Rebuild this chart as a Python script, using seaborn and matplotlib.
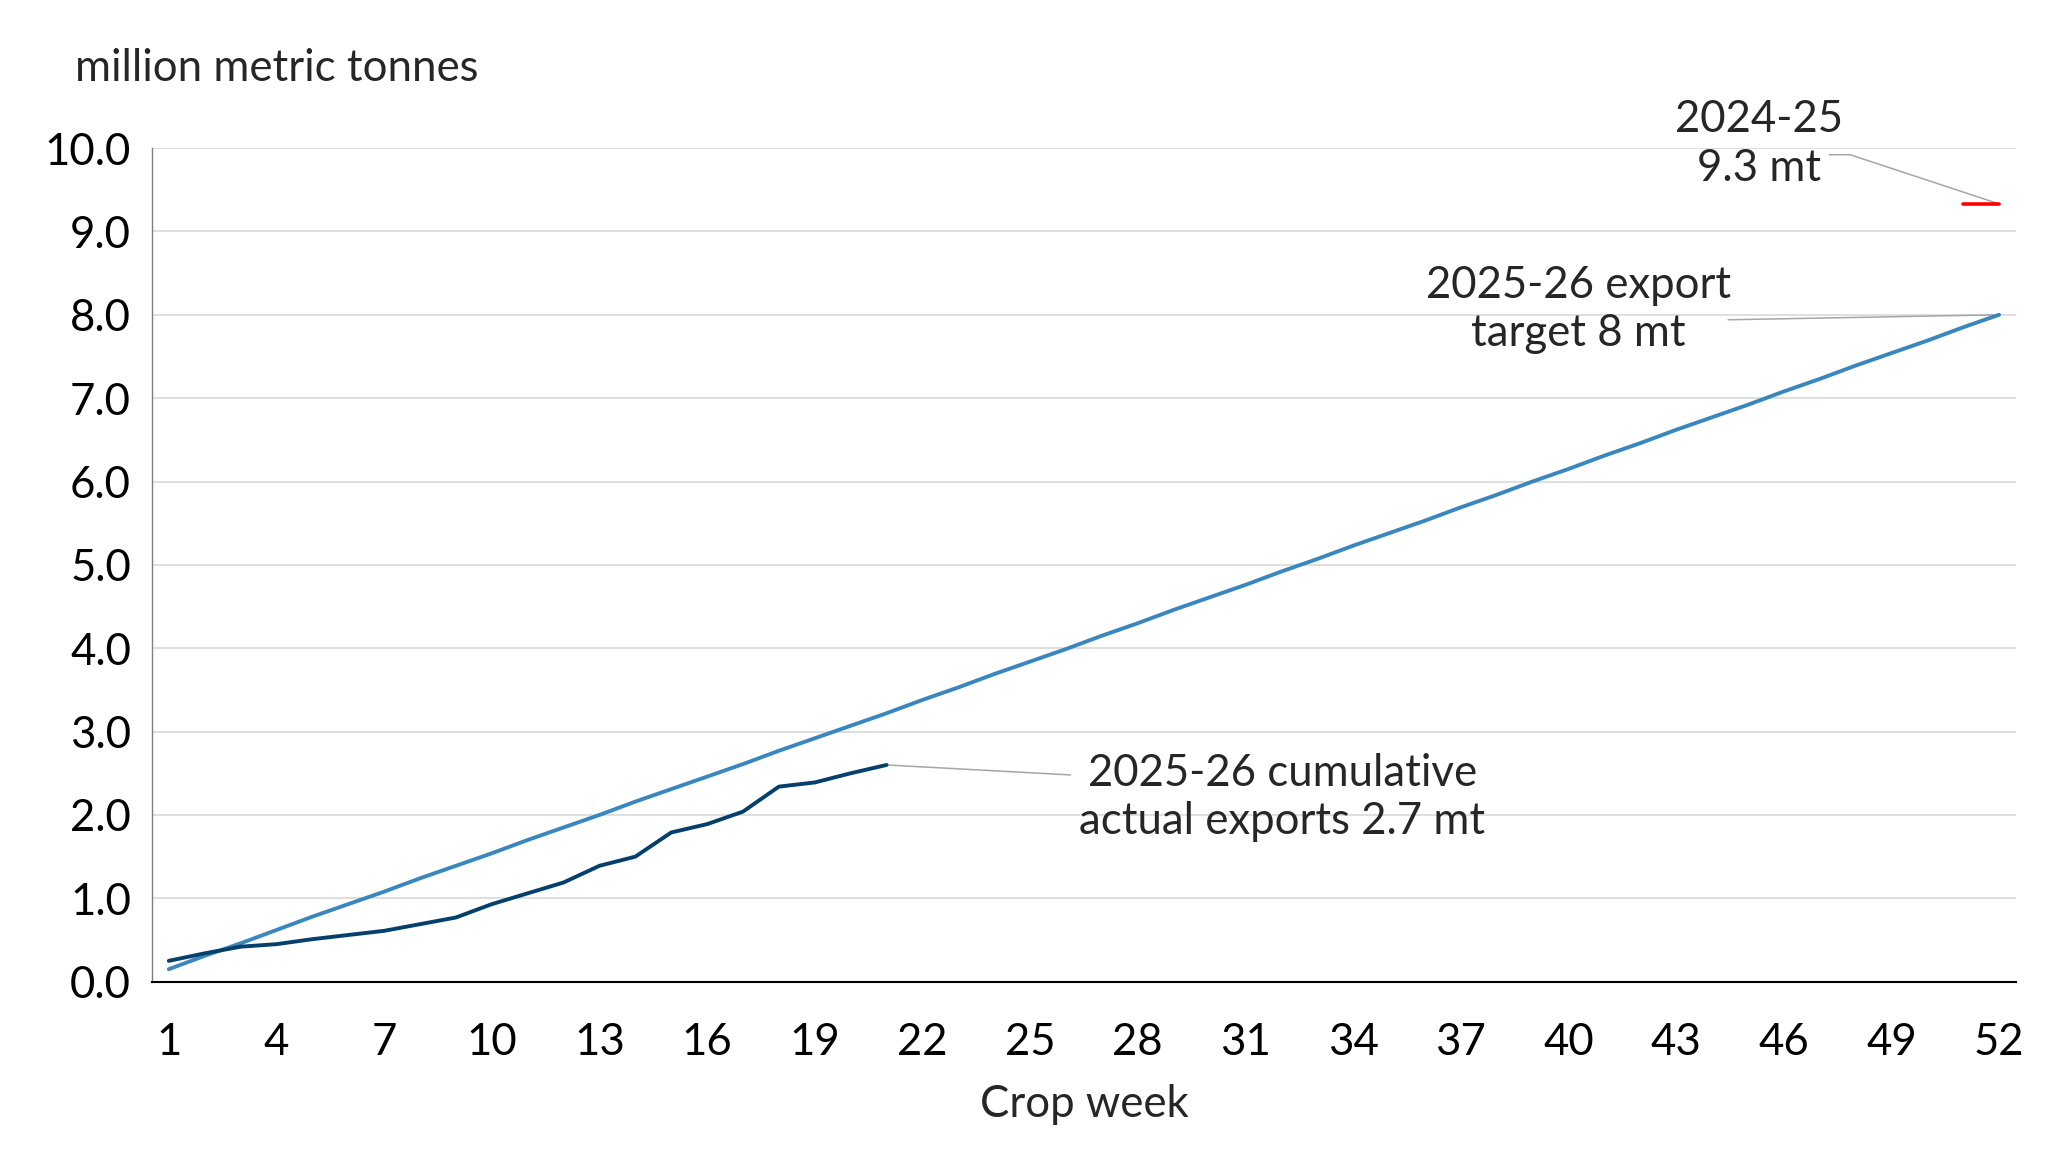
import numpy as np
import pandas as pd
import seaborn as sns
import matplotlib.pyplot as plt

# crop weeks
weeks = list(range(1, 53))
tick_weeks = list(range(1, 53, 3))

# 2025-26 export target, cumulative (mt)
target = [0.15, 0.31, 0.46, 0.62, 0.78, 0.93, 1.08, 1.24, 1.39, 1.54,
          1.70, 1.85, 2.00, 2.16, 2.31, 2.46, 2.61, 2.77, 2.92, 3.07,
          3.22, 3.38, 3.53, 3.69, 3.84, 3.99, 4.15, 4.30, 4.46, 4.61,
          4.76, 4.92, 5.07, 5.23, 5.38, 5.53, 5.69, 5.84, 6.00, 6.15,
          6.31, 6.46, 6.62, 6.77, 6.92, 7.08, 7.23, 7.39, 7.54, 7.69,
          7.85, 8.00]

# 2025-26 cumulative actual exports (mt), weeks 1-21
actual = [0.25, 0.34, 0.42, 0.45, 0.51, 0.56, 0.61, 0.69, 0.77, 0.93,
          1.06, 1.19, 1.39, 1.50, 1.79, 1.89, 2.04, 2.34, 2.39, 2.50,
          2.60]

# 2024-25 total
prev_weeks = [51, 52]
prev_total = [9.33, 9.33]

yticks = [0, 1, 2, 3, 4, 5, 6, 7, 8, 9, 10]

df_target = pd.DataFrame({"week": weeks, "value": target})
df_actual = pd.DataFrame({"week": weeks[:len(actual)], "value": actual})
df_prev = pd.DataFrame({"week": prev_weeks, "value": prev_total})

sns.set_theme(style="white")
plt.rcParams["font.family"] = ["Lato", "DejaVu Sans"]

FS = 31.5
LEADER = "#a6a6a6"

fig = plt.figure(figsize=(20.67, 11.63), dpi=100)
ax = fig.add_axes([0.0735, 0.1559, 0.9018, 0.7168])

ax.grid(axis="y", color="#d9d9d9", linewidth=1.2)
ax.set_axisbelow(True)

sns.lineplot(data=df_target, x="week", y="value", color="#3a87c0", linewidth=2.8, ax=ax)
sns.lineplot(data=df_actual, x="week", y="value", color="#053f6b", linewidth=2.8, ax=ax)
sns.lineplot(data=df_prev, x="week", y="value", color="#ff0000", linewidth=2.6, ax=ax)

ax.set_xlim(0.53, 52.47)
ax.set_ylim(0, 10)
ax.set_xticks(tick_weeks)
ax.set_xticklabels([str(w) for w in tick_weeks])
ax.set_yticks(yticks)
ax.set_yticklabels([f"{v:.1f}" for v in yticks])
ax.tick_params(axis="both", length=0, labelsize=FS, colors="black")
ax.tick_params(axis="x", pad=29)
ax.tick_params(axis="y", pad=15)

for s in ["top", "right"]:
    ax.spines[s].set_visible(False)
ax.spines["left"].set_color("#7f7f7f")
ax.spines["left"].set_linewidth(1.0)
ax.spines["bottom"].set_color("black")
ax.spines["bottom"].set_linewidth(1.5)

ax.set_xlabel("Crop week", fontsize=FS, labelpad=15)
ax.set_ylabel("")
fig.text(0.0363, 0.9407, "million metric tonnes", fontsize=FS, ha="left", va="center")

# annotations with leader lines
ax.text(45.3, 10.05, "2024-25\n9.3 mt", fontsize=FS, ha="center", va="center",
        linespacing=1.22)
ax.plot([47.27, 47.85, prev_weeks[-1]], [9.92, 9.92, prev_total[-1]],
        color=LEADER, linewidth=1.1, clip_on=False, zorder=1)

ax.text(40.28, 8.06, "2025-26 export\ntarget 8 mt", fontsize=FS, ha="center", va="center",
        linespacing=1.22)
ax.plot([44.45, weeks[-1]], [7.94, target[-1]], color=LEADER, linewidth=1.1, zorder=1)

ax.text(32.03, 2.21, "2025-26 cumulative\nactual exports 2.7 mt", fontsize=FS,
        ha="center", va="center", linespacing=1.22)
ax.plot([len(actual), 26.13], [actual[-1], 2.48], color=LEADER, linewidth=1.1, zorder=1)

fig.savefig("out.png", dpi=100)
